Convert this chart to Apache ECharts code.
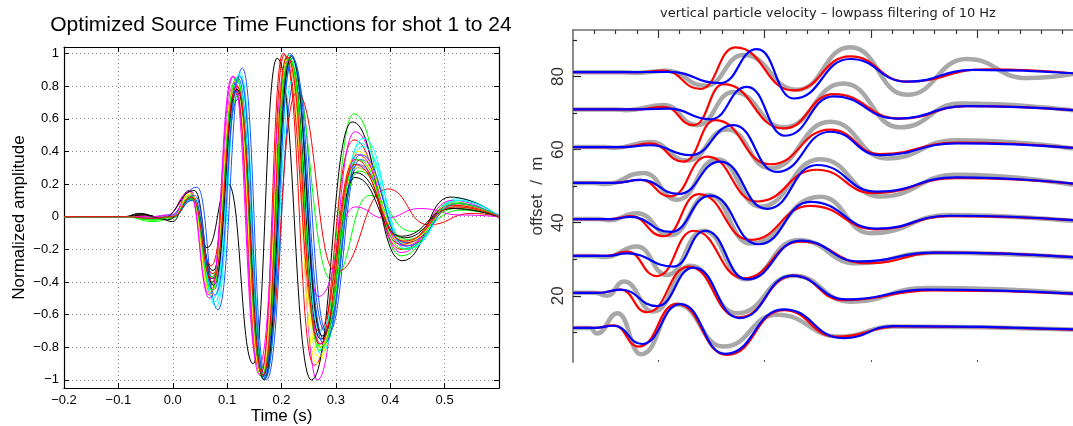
<!DOCTYPE html>
<html>
<head>
<meta charset="utf-8">
<script src="https://cdn.jsdelivr.net/npm/echarts@6/dist/echarts.min.js"></script>
<style>html,body{margin:0;padding:0;background:#fff}#chart{width:1073px;height:426px}</style>
</head>
<body>
<div id="chart"></div>
<script>
// ---- left panel: source time functions, [time (s), normalized amplitude] at the wiggle extrema
var shotColors = ['#1455ff','#00ff00','#ff0000','#00ffff','#ff00ff','#ffff00','#000000',
                  '#1455ff','#00ff00','#ff0000','#00ffff','#ff00ff','#ffff00','#000000',
                  '#1455ff','#00ff00','#ff0000','#00ffff','#ff00ff','#ffff00','#000000',
                  '#1455ff','#00ff00','#ff0000'];
var shotCurves = [
 [[-0.2,0],[-0.09,0],[-0.05,-0.01],[-0.01,0],[0.045,0.18],[0.083,-0.57],[0.128,0.91],[0.172,-1.0],[0.226,0.84],[0.285,-0.72],[0.345,0.35],[0.43,-0.16],[0.52,0.07],[0.6,0.01]],
 [[-0.2,0],[-0.09,0],[-0.035,-0.03],[0,-0.01],[0.033,0.12],[0.07,-0.42],[0.118,0.84],[0.163,-0.98],[0.21,0.98],[0.27,-0.8],[0.333,0.63],[0.42,-0.24],[0.515,0.09],[0.6,-0.01]],
 [[-0.2,0],[-0.09,0],[-0.05,0.01],[-0.02,-0.01],[0.035,0.13],[0.072,-0.38],[0.118,0.8],[0.165,-0.97],[0.205,0.99],[0.26,-0.91],[0.333,0.47],[0.42,-0.2],[0.52,0.08],[0.6,0]],
 [[-0.2,0],[-0.09,0],[-0.04,-0.01],[0,0.01],[0.038,0.11],[0.078,-0.52],[0.124,0.88],[0.17,-0.98],[0.222,0.85],[0.275,-0.82],[0.345,0.45],[0.43,-0.2],[0.525,0.11],[0.6,0]],
 [[-0.2,0],[-0.09,0],[-0.04,0],[-0.01,0.01],[0.03,0.15],[0.068,-0.48],[0.112,0.86],[0.16,-0.97],[0.212,0.97],[0.266,-1.0],[0.335,0.52],[0.42,-0.22],[0.515,0.1],[0.6,-0.01]],
 [[-0.2,0],[-0.09,0],[-0.04,-0.01],[0,0],[0.033,0.14],[0.07,-0.44],[0.116,0.8],[0.163,-0.95],[0.21,0.98],[0.265,-0.9],[0.337,0.38],[0.425,-0.17],[0.52,0.07],[0.6,0]],
 [[-0.2,0],[-0.09,0],[-0.06,0.02],[-0.03,0],[0,-0.03],[0.03,0.16],[0.063,-0.19],[0.102,0.2],[0.148,-0.9],[0.192,0.97],[0.255,-1.0],[0.33,0.58],[0.422,-0.27],[0.51,0.12],[0.6,0]],
 [[-0.2,0],[-0.09,0],[-0.04,-0.01],[0,0],[0.038,0.12],[0.075,-0.45],[0.12,0.85],[0.167,-0.99],[0.215,1.0],[0.28,-0.76],[0.34,0.3],[0.43,-0.15],[0.52,0.06],[0.6,0]],
 [[-0.2,0],[-0.09,0],[-0.035,-0.02],[0,0],[0.035,0.12],[0.072,-0.4],[0.118,0.8],[0.165,-0.95],[0.215,0.92],[0.293,-0.39],[0.362,0.13],[0.44,-0.09],[0.53,0.04],[0.6,0]],
 [[-0.2,0],[-0.09,0],[-0.04,-0.01],[0,0],[0.036,0.1],[0.074,-0.35],[0.12,0.78],[0.168,-0.93],[0.228,0.76],[0.3,-0.34],[0.395,0.17],[0.47,-0.05],[0.55,0.02],[0.6,0]],
 [[-0.2,0],[-0.09,0],[-0.04,0],[0,0.01],[0.037,0.1],[0.08,-0.55],[0.122,0.87],[0.17,-0.96],[0.22,0.95],[0.272,-0.84],[0.348,0.43],[0.435,-0.19],[0.525,0.1],[0.6,0]],
 [[-0.2,0],[-0.09,0],[-0.04,-0.01],[0,0.01],[0.032,0.16],[0.07,-0.47],[0.113,0.82],[0.162,-0.95],[0.215,0.9],[0.268,-0.49],[0.335,0.06],[0.39,-0.01],[0.455,0.05],[0.53,0.01],[0.6,0]],
 [[-0.2,0],[-0.09,0],[-0.04,-0.01],[0,0],[0.034,0.13],[0.071,-0.46],[0.117,0.79],[0.165,-0.97],[0.213,0.97],[0.268,-0.86],[0.34,0.4],[0.425,-0.16],[0.52,0.08],[0.6,0]],
 [[-0.2,0],[-0.09,0],[-0.05,0.01],[-0.01,-0.02],[0.036,0.11],[0.074,-0.33],[0.118,0.78],[0.165,-0.98],[0.215,0.96],[0.272,-0.75],[0.336,0.27],[0.425,-0.13],[0.515,0.05],[0.6,0]],
 [[-0.2,0],[-0.09,0],[-0.04,-0.01],[0,0],[0.036,0.1],[0.076,-0.38],[0.12,0.72],[0.168,-0.97],[0.218,0.99],[0.278,-0.78],[0.34,0.32],[0.428,-0.16],[0.52,0.06],[0.6,0]],
 [[-0.2,0],[-0.09,0],[-0.035,-0.02],[0,0],[0.035,0.11],[0.072,-0.37],[0.12,0.74],[0.167,-0.93],[0.212,0.99],[0.272,-0.8],[0.342,0.28],[0.43,-0.14],[0.52,0.05],[0.6,0]],
 [[-0.2,0],[-0.09,0],[-0.04,0],[0,0],[0.034,0.12],[0.071,-0.3],[0.115,0.76],[0.162,-0.96],[0.203,1.0],[0.268,-0.7],[0.336,0.35],[0.42,-0.17],[0.515,0.07],[0.6,0]],
 [[-0.2,0],[-0.09,0],[-0.04,-0.01],[0,0.01],[0.036,0.12],[0.075,-0.5],[0.12,0.82],[0.168,-1.0],[0.22,0.97],[0.27,-0.7],[0.35,0.48],[0.43,-0.2],[0.525,0.1],[0.6,0]],
 [[-0.2,0],[-0.09,0],[-0.04,0],[0,0.01],[0.031,0.15],[0.068,-0.5],[0.11,0.86],[0.158,-0.92],[0.21,0.95],[0.272,-0.78],[0.34,0.38],[0.425,-0.18],[0.52,0.08],[0.6,0]],
 [[-0.2,0],[-0.09,0],[-0.04,-0.01],[0,0],[0.033,0.15],[0.07,-0.48],[0.115,0.83],[0.163,-0.97],[0.21,0.96],[0.27,-0.8],[0.338,0.3],[0.43,-0.15],[0.52,0.06],[0.6,0]],
 [[-0.2,0],[-0.09,0],[-0.06,0.015],[-0.02,-0.01],[0.04,0.16],[0.075,-0.42],[0.118,0.78],[0.168,-1.0],[0.218,0.98],[0.275,-0.73],[0.335,0.24],[0.42,-0.12],[0.515,0.05],[0.6,0]],
 [[-0.2,0],[-0.09,0],[-0.04,-0.01],[0,0],[0.04,0.13],[0.078,-0.48],[0.123,0.86],[0.17,-0.99],[0.22,0.97],[0.28,-0.7],[0.345,0.38],[0.43,-0.18],[0.525,0.08],[0.6,0]],
 [[-0.2,0],[-0.09,0],[-0.035,-0.02],[0,0],[0.034,0.13],[0.072,-0.45],[0.117,0.85],[0.165,-0.96],[0.215,0.97],[0.27,-0.82],[0.34,0.35],[0.425,-0.2],[0.52,0.08],[0.6,0]],
 [[-0.2,0],[-0.09,0],[-0.04,-0.01],[0,0],[0.035,0.12],[0.073,-0.4],[0.118,0.8],[0.166,-0.97],[0.21,0.98],[0.27,-0.78],[0.335,0.32],[0.425,-0.15],[0.52,0.06],[0.6,0]]
];
var stfTimeLabels = [-0.2,-0.1,0,0.1,0.2,0.3,0.4,0.5];
var stfAmpTicks = [-1,-0.8,-0.6,-0.4,-0.2,0,0.2,0.4,0.6,0.8,1];

// ---- right panel: seismogram traces, [time (s), amplitude in offset units] per trace
var traceOffsets = [11.2,20.8,30.9,41.0,50.9,60.7,71.0,81.2];
var observedTraces = [
 [[0.1,0],[0.18,0],[0.213,-1.5],[0.31,4.0],[0.42,-7.2],[0.589,6.4],[0.808,-5.1],[1.058,3.6],[1.356,-2.4],[1.606,0.4],[2.45,-0.4]],
 [[0.1,0],[0.2,0],[0.26,-0.8],[0.339,3.1],[0.479,-5.1],[0.652,7.4],[0.871,-5.6],[1.137,4.7],[1.403,-2.4],[1.763,1.3],[2.45,-0.2]],
 [[0.1,0],[0.2,0],[0.25,-0.3],[0.401,2.6],[0.542,-5.2],[0.714,6.9],[0.91,-6.4],[1.16,4.4],[1.434,-2.0],[1.794,0.9],[2.45,-0.4]],
 [[0.1,0],[0.22,0],[0.27,-0.3],[0.401,1.6],[0.558,-4.4],[0.738,6.6],[0.933,-6.7],[1.262,6.1],[1.5,-3.9],[1.872,1.1],[2.45,-0.5]],
 [[0.1,0],[0.2,0],[0.25,-0.3],[0.433,2.7],[0.589,-4.6],[0.777,6.5],[0.981,-6.5],[1.262,6.5],[1.544,-3.7],[1.904,2.2],[2.45,-0.5]],
 [[0.1,0],[0.25,0],[0.3,-0.2],[0.464,1.4],[0.636,-3.7],[0.824,4.8],[1.027,-5.8],[1.309,6.9],[1.575,-3.1],[1.904,1.9],[2.45,-0.4]],
 [[0.1,0],[0.3,0],[0.35,-0.2],[0.527,1.2],[0.683,-4.3],[0.855,4.8],[1.09,-4.9],[1.371,7.1],[1.637,-4.9],[1.919,1.6],[2.45,-0.2]],
 [[0.1,0],[0.33,0],[0.4,-0.2],[0.542,0.4],[0.722,-3.75],[0.902,4.7],[1.152,-4.8],[1.403,6.8],[1.669,-6.2],[1.951,3.6],[2.232,-1.6],[2.45,-0.5]]
];
var redTraces = [
 [[0.1,0],[0.2,0],[0.292,0.7],[0.409,-5.1],[0.589,6.6],[0.824,-7.4],[1.09,4.9],[1.34,-2.4],[1.637,0.4],[2.45,-0.5]],
 [[0.1,0],[0.22,0],[0.323,0.9],[0.448,-5.3],[0.644,7.2],[0.879,-6.7],[1.137,4.7],[1.371,-2.0],[1.794,0.7],[2.45,-0.2]],
 [[0.1,0],[0.26,0],[0.354,1.2],[0.495,-5.5],[0.667,6.9],[0.902,-6.1],[1.17,3.9],[1.481,-2.0],[1.825,0.9],[2.45,-0.3]],
 [[0.1,0],[0.28,0],[0.37,0.8],[0.527,-4.7],[0.691,6.8],[0.933,-5.7],[1.215,3.6],[1.528,-2.8],[1.872,0.8],[2.45,-0.3]],
 [[0.1,0],[0.3,0],[0.417,0.8],[0.558,-3.7],[0.73,7.2],[0.965,-5.1],[1.246,3.6],[1.512,-2.8],[1.904,1.3],[2.45,-0.2]],
 [[0.1,0],[0.33,0],[0.464,1.0],[0.62,-4.0],[0.769,7.4],[1.027,-4.7],[1.309,4.8],[1.544,-1.9],[1.904,1.2],[2.45,-0.2]],
 [[0.1,0],[0.4,0],[0.527,0.7],[0.667,-4.3],[0.808,6.9],[1.09,-5.2],[1.325,4.2],[1.637,-2.5],[1.95,0.9],[2.45,-0.2]],
 [[0.1,0],[0.42,0],[0.527,0.4],[0.699,-4.6],[0.863,6.8],[1.137,-5.0],[1.403,4.3],[1.669,-2.6],[2.044,0.8],[2.45,-0.3]]
];
var blueTraces = [
 [[0.1,0],[0.2,0],[0.292,0.6],[0.425,-4.4],[0.605,6.5],[0.816,-7.1],[1.09,5.1],[1.371,-2.8],[1.606,0.5],[2.45,-0.4]],
 [[0.1,0],[0.22,0],[0.323,0.9],[0.495,-3.6],[0.667,6.9],[0.883,-6.9],[1.129,4.7],[1.387,-1.8],[1.763,0.9],[2.45,-0.2]],
 [[0.1,0],[0.26,0],[0.354,0.7],[0.573,-2.9],[0.722,6.9],[0.918,-6.4],[1.17,4.2],[1.45,-1.5],[1.794,0.9],[2.45,-0.3]],
 [[0.1,0],[0.28,0],[0.37,0.6],[0.558,-3.5],[0.746,6.4],[0.972,-6.9],[1.215,4.7],[1.528,-2.6],[1.872,0.9],[2.45,-0.3]],
 [[0.1,0],[0.3,0],[0.417,0.8],[0.597,-3.0],[0.792,5.8],[1.012,-7.1],[1.246,4.9],[1.528,-2.4],[1.904,1.5],[2.45,-0.2]],
 [[0.1,0],[0.33,0],[0.464,0.5],[0.652,-2.2],[0.855,6.0],[1.058,-6.8],[1.309,4.2],[1.544,-2.2],[1.904,1.0],[2.45,-0.2]],
 [[0.1,0],[0.35,0],[0.55,0.2],[0.746,-2.7],[0.918,6.2],[1.098,-7.2],[1.325,3.6],[1.622,-2.5],[1.95,0.9],[2.45,-0.2]],
 [[0.1,0],[0.35,0],[0.55,0.1],[0.792,-3.0],[0.965,6.3],[1.137,-7.2],[1.403,3.6],[1.669,-2.6],[1.982,0.6],[2.45,-0.3]]
];
var offsetLabelTicks = [20,40,60,80];
var offsetMinorTicks = [10,30,50,70,90];
var timeMajorTicks = [0.5,1.0,1.5,2.0];
var timeMinorTicks = [0.2,0.3,0.4,0.6,0.7,0.8,0.9,1.1,1.2,1.3,1.4,1.6,1.7,1.8,1.9,2.1,2.2,2.3,2.4];

var FONT = 'Liberation Sans';
function minus(s){ return s.replace('-', '\u2212'); }

var series = [];
for (var i = 0; i < shotCurves.length; i++) {
  series.push({
    type:'line', xAxisIndex:2, yAxisIndex:2, data:shotCurves[i],
    smooth:0.5, smoothMonotone:'x', showSymbol:false, symbol:'none', clip:false,
    lineStyle:{color:shotColors[i], width:1}, silent:true
  });
}
function traceSeries(list, color, width){
  for (var k = 0; k < list.length; k++) {
    var base = traceOffsets[k];
    series.push({
      type:'line', xAxisIndex:3, yAxisIndex:3,
      data:list[k].map(function(p){ return [p[0], base + p[1]]; }),
      smooth:0.5, smoothMonotone:'x', showSymbol:false, symbol:'none',
      lineStyle:{color:color, width:width}, silent:true
    });
  }
}
traceSeries(observedTraces, '#a8a8a8', 4.5);
traceSeries(redTraces, '#ff0000', 2.2);
traceSeries(blueTraces, '#0000ff', 2.2);

var chart = echarts.init(document.getElementById('chart'));
var option = {
  animation:false,
  backgroundColor:'#fff',
  title:[
    {text:'Optimized Source Time Functions for shot 1 to 24', left:281, top:15, textAlign:'center', padding:0,
     textStyle:{fontSize:21, fontWeight:'normal', fontFamily:FONT, color:'#000'}},
    {text:'vertical particle velocity \u2013 lowpass filtering of 10 Hz', left:828, top:7, textAlign:'center', padding:0,
     textStyle:{fontSize:13, fontWeight:'normal', fontFamily:'DejaVu Sans', color:'#222'}}
  ],
  grid:[
    {left:64, top:47, width:435, height:341, outerBoundsMode:'none', containLabel:false},
    {left:64, top:53.3, width:435, height:326.7, outerBoundsMode:'none', containLabel:false},
    {left:573, top:30, right:0, height:332, outerBoundsMode:'none', containLabel:false}
  ],
  xAxis:[
    {gridIndex:0, type:'value', position:'bottom', min:-0.2, max:0.6, interval:0.1,
     axisLine:{onZero:false, lineStyle:{color:'#000', width:1.2}},
     axisTick:{inside:true, length:5, lineStyle:{color:'#000'}},
     axisLabel:{customValues:stfTimeLabels, margin:6, fontSize:13, fontFamily:FONT, color:'#000',
       formatter:function(v){ return minus(v.toFixed(1)); }},
     splitLine:{show:true, lineStyle:{color:'#8c8c8c', type:[1,3], width:1}},
     name:'Time (s)', nameLocation:'middle', nameGap:20, nameMoveOverlap:false,
     nameTextStyle:{fontSize:17, fontFamily:FONT, color:'#000'}},
    {gridIndex:0, type:'value', position:'top', min:-0.2, max:0.6, interval:0.1,
     axisLine:{onZero:false, lineStyle:{color:'#000', width:1.2}},
     axisTick:{inside:true, length:5, lineStyle:{color:'#000'}},
     axisLabel:{show:false}, splitLine:{show:false}},
    {gridIndex:1, type:'value', min:-0.2, max:0.6, show:false},
    {gridIndex:2, type:'value', position:'top', min:0.1, max:2.45,
     axisLine:{onZero:false, lineStyle:{color:'#707070', width:1.5}},
     axisTick:{inside:true, length:8, customValues:timeMajorTicks, lineStyle:{color:'#333', width:1.2}},
     axisLabel:{show:false}, splitLine:{show:false}},
    {gridIndex:2, type:'value', position:'top', min:0.1, max:2.45,
     axisLine:{show:false, onZero:false},
     axisTick:{inside:true, length:4, customValues:timeMinorTicks, lineStyle:{color:'#333', width:1.2}},
     axisLabel:{show:false}, splitLine:{show:false}},
    {gridIndex:2, type:'value', position:'bottom', min:0.1, max:2.45,
     axisLine:{show:false, onZero:false},
     axisTick:{inside:true, length:2, customValues:timeMajorTicks, lineStyle:{color:'#555', width:1}},
     axisLabel:{show:false}, splitLine:{show:false}}
  ],
  yAxis:[
    {gridIndex:0, type:'value', position:'left', min:-1.05, max:1.04,
     axisLine:{onZero:false, lineStyle:{color:'#000', width:1.2}},
     axisTick:{inside:true, length:5, customValues:stfAmpTicks, lineStyle:{color:'#000'}},
     axisLabel:{customValues:stfAmpTicks, margin:5, fontSize:13, fontFamily:FONT, color:'#000',
       formatter:function(v){ return minus(String(Math.round(v*10)/10)); }},
     splitLine:{show:false},
     name:'Normalized amplitude', nameLocation:'middle', nameGap:36, nameRotate:90, nameMoveOverlap:false,
     nameTextStyle:{fontSize:17, fontFamily:FONT, color:'#000'}},
    {gridIndex:0, type:'value', position:'right', min:-1.05, max:1.04,
     axisLine:{onZero:false, lineStyle:{color:'#000', width:1.2}},
     axisTick:{inside:true, length:5, customValues:stfAmpTicks, lineStyle:{color:'#000'}},
     axisLabel:{show:false}, splitLine:{show:false}},
    {gridIndex:1, type:'value', min:-1, max:1, interval:0.2,
     axisLine:{show:false}, axisTick:{show:false}, axisLabel:{show:false},
     splitLine:{show:true, lineStyle:{color:'#8c8c8c', type:[1,3], width:1}}},
    {gridIndex:2, type:'value', position:'left', min:1.88, max:92.74,
     axisLine:{onZero:false, lineStyle:{color:'#8a8a8a', width:2}},
     axisTick:{inside:true, length:8, customValues:offsetLabelTicks, lineStyle:{color:'#222', width:1.2}},
     axisLabel:{customValues:offsetLabelTicks, rotate:90, margin:6, fontSize:17, fontFamily:FONT, color:'#333'},
     splitLine:{show:false},
     name:'offset  /  m', nameLocation:'middle', nameGap:27, nameRotate:90, nameMoveOverlap:false,
     nameTextStyle:{fontSize:17, fontFamily:FONT, color:'#333'}},
    {gridIndex:2, type:'value', position:'left', min:1.88, max:92.74,
     axisLine:{show:false, onZero:false},
     axisTick:{inside:true, length:4, customValues:offsetMinorTicks, lineStyle:{color:'#222', width:1.2}},
     axisLabel:{show:false}, splitLine:{show:false}}
  ],
  series:series
};
chart.setOption(option);
</script>
</body>
</html>
